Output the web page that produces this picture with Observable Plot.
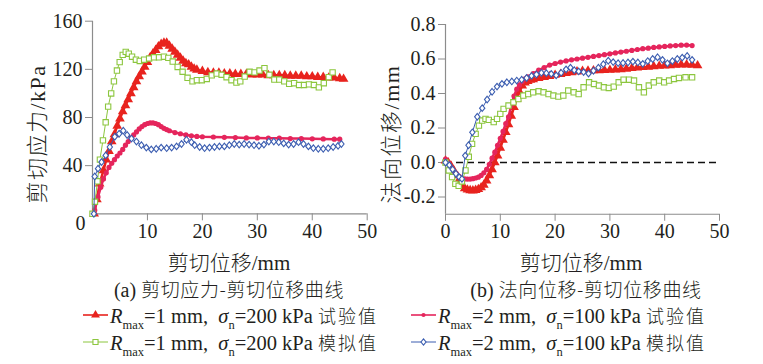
<!DOCTYPE html>
<html><head><meta charset="utf-8">
<script src="https://cdn.jsdelivr.net/npm/d3@7"></script>
<script src="https://cdn.jsdelivr.net/npm/@observablehq/plot@0.6"></script>
<style>
body{margin:0;background:#fff;}
#fig{position:relative;width:763px;height:364px;background:#fff;overflow:hidden;font-family:"Liberation Serif","Noto Sans CJK SC",serif;color:#231f20;}
.abs{position:absolute;white-space:nowrap;}
.ctr{transform:translate(-50%,-50%);}
.ttl{font-size:21px;line-height:24px;}
.cap{font-size:20px;line-height:22px;}
.cap .cjk{font-size:19px;letter-spacing:0.6px;}
.ylab{font-size:22px;line-height:24px;letter-spacing:1.5px;transform:translate(-50%,-50%) rotate(-90deg);}
.leg{font-size:20.5px;line-height:20px;}
.leg .sub{font-size:12.5px;position:relative;top:6px;line-height:0;}
.leg .cjk{font-size:18px;letter-spacing:2px;}
.cjk{font-family:"Noto Sans CJK SC",sans-serif;font-weight:300;}
svg.sample{position:absolute;overflow:visible;}
</style></head>
<body>
<div id="fig"></div>
<script>
// ---------- data ----------
// (a) shear stress (kPa) vs shear displacement (mm)
const aTest1X = [0.3,0.8,1.3,2,2.5,3,3.5,4,4.5,5,5.5,6,6.5,7,7.5,8,8.5,9,9.5,10,10.5,11,11.5,12,12.5,13,13.5,14,14.5,15,15.5,16,16.5,17,17.5,18,18.5,19,20,21,22,23,24,25,26,27,28,29,30,31,32,33,34,35,36,37,38,39,40,41,42,43,44,45,45.7];
const aTest1Y = [0,12,25,36,45,52,60,66,73,79,85,90,95,100,105,110,114,118,122,126,130,133,136,139,141,142,142,139.5,137,134.5,132,129.5,127,125,124,122,120.5,119.5,118.5,117.5,117,117,116.5,116.5,116,116,116,115.5,115.5,115.5,115,115,115,115,114.5,114.5,114.5,114,114,113.5,113.5,113,113,112.5,112];
const aSim1X = [0,0.45,0.9,1.35,1.9,2.4,2.85,3.4,3.9,4.45,4.95,5.5,6.05,6.6,7.2,7.9,8.6,9.4,10.3,11.2,12.1,13.0,13.8,14.6,15.5,16.4,17.3,18.2,19.0,19.9,20.8,21.7,22.6,23.5,24.4,25.3,26.2,26.9,27.7,28.6,29.5,30.4,31.3,32.2,33.1,34.0,34.9,35.8,36.7,37.6,38.5,39.4,40.3,41.2,42.1,43.0,43.7];
const aSim1Y = [0,10,27,45,61,76,89,100,110,119,126,132,134.5,133,130.5,128,127,128,129,130,130,130.5,129.5,126.5,122,118,113,110,111,111,112,115,116.5,115.5,113.5,111,109,110,114,118,117.5,119,121,115.5,111.5,111.5,110,108,108.5,107,107,107.5,107,105,108.5,113.5,117.5];
const aTest2X = [0.4,1,1.5,2,2.5,3,3.5,4,4.5,5,5.5,6,6.5,7,7.5,8,8.5,9,9.5,10,10.5,11,11.5,12,12.5,13,13.5,14,15,16,17,18,19,20,22,24,26,28,30,32,34,36,38,40,42,44,45];
const aTest2Y = [3,14,22,29,34,38.5,42,45,48,50.5,53.5,57,60,63,65.5,68,70.5,72.5,74,75,75.5,75.5,75,74,72.5,71,70,69,67.5,66.5,65.5,64.8,64.3,64,63.8,63.5,63.3,63,63,62.8,62.8,62.5,62.5,62.3,62.2,62,62];
const aSim2X = [0.25,0.4,1.0,1.65,2.4,3.15,4.05,4.85,5.6,6.3,7.1,8.0,8.9,9.8,10.7,11.6,12.5,13.5,14.4,15.3,16.2,17.1,18.0,18.6,19.5,20.4,21.3,22.2,23.1,24.0,24.9,25.8,26.7,27.6,28.5,29.4,30.3,31.2,32.1,33.0,33.9,34.8,35.7,36.6,37.5,38.4,39.3,40.2,41.1,42.0,42.9,43.8,44.7,45.3];
const aSim2Y = [0,31,37.5,43,48.5,55.5,64,66.5,69,65.5,62.5,60,57,55,53.5,54,55,54.5,55,56,58,61.5,59.5,57,55.5,54.5,55,55.5,56,56,57,58,57.5,58,57.5,57,56.5,57.5,60,60,59.5,58.5,57.5,58,59.5,58,56,54.5,54,54,54.5,55.5,56.5,58];

// (b) normal displacement (mm) vs shear displacement (mm)
const bTest1X = [0,0.5,1,1.5,2,2.5,3,3.5,4,4.5,5,5.5,6,6.5,7,7.5,8,8.5,9,9.5,10,10.5,11,11.5,12,12.5,13,13.5,14,14.5,15,15.5,16,17,18,19,20,21,22,23,24,25,26,27,28,29,30,31,32,33,34,35,36,37,38,39,40,41,42,43,44,45,46];
const bTest1Y = [0.01,0,-0.02,-0.045,-0.075,-0.1,-0.13,-0.15,-0.158,-0.162,-0.163,-0.16,-0.155,-0.145,-0.13,-0.105,-0.075,-0.04,0,0.04,0.085,0.13,0.175,0.22,0.27,0.32,0.37,0.41,0.445,0.462,0.472,0.478,0.482,0.489,0.495,0.5,0.507,0.512,0.518,0.522,0.527,0.53,0.532,0.533,0.534,0.535,0.536,0.538,0.54,0.543,0.546,0.549,0.552,0.554,0.557,0.559,0.561,0.563,0.565,0.567,0.567,0.566,0.562];
const bSim1X = [0,0.6,1.2,1.8,2.4,3.0,3.65,4.25,4.85,5.5,6.1,6.7,7.3,7.9,8.8,9.4,10,10.6,11.5,12.4,13.3,14.2,15.1,16,17,17.9,18.8,19.7,20.6,21.5,22.4,23.4,24.3,25.2,26.2,27.1,28,28.9,29.8,30.7,31.6,32.5,33.5,34.4,35.3,36.2,37.1,38,39,39.9,40.8,41.7,42.6,43.8,45];
const bSim1Y = [0,-0.046,-0.085,-0.124,-0.135,-0.11,-0.046,0.033,0.108,0.166,0.214,0.243,0.253,0.247,0.234,0.253,0.282,0.311,0.33,0.349,0.368,0.388,0.397,0.407,0.413,0.407,0.397,0.388,0.382,0.388,0.417,0.407,0.397,0.436,0.465,0.455,0.446,0.436,0.432,0.44,0.465,0.48,0.48,0.475,0.436,0.407,0.446,0.465,0.475,0.465,0.475,0.484,0.49,0.494,0.494];
const bTest2X = [0,0.5,1,1.5,2,2.5,3,3.5,4,4.5,5,5.5,6,6.5,7,7.5,8,8.5,9,9.5,10,10.5,11,11.5,12,12.5,13,13.5,14,14.5,15,16,17,18,19,20,21,22,23,24,25,26,27,28,29,30,31,32,33,34,35,36,37,38,39,40,41,42,43,44,45];
const bTest2Y = [0.02,0,-0.03,-0.05,-0.065,-0.08,-0.09,-0.095,-0.096,-0.096,-0.094,-0.09,-0.085,-0.075,-0.06,-0.04,-0.01,0.025,0.06,0.1,0.14,0.18,0.225,0.265,0.33,0.385,0.425,0.45,0.47,0.485,0.497,0.515,0.535,0.55,0.565,0.574,0.582,0.589,0.595,0.6,0.605,0.61,0.615,0.62,0.625,0.63,0.635,0.64,0.645,0.65,0.655,0.66,0.663,0.667,0.67,0.673,0.676,0.678,0.68,0.681,0.678];
const bSim2X = [0,0.7,1.3,1.9,2.5,3.0,3.6,4.2,4.9,5.8,6.7,7.6,8.5,9.4,10.3,11.2,12.1,13.0,13.9,14.8,15.7,16.6,17.5,18.4,19.3,20.2,21.1,22.0,22.8,23.5,24.3,25.2,26.1,27.0,27.9,28.8,29.7,30.6,31.5,32.4,33.3,34.2,35.1,36.0,36.9,37.8,38.7,39.6,40.5,41.4,42.3,43.2,44.1,45.0];
const bSim2Y = [0,-0.015,-0.04,-0.065,-0.085,-0.095,0.04,0.1,0.175,0.265,0.315,0.365,0.41,0.44,0.456,0.465,0.47,0.475,0.48,0.49,0.502,0.51,0.52,0.518,0.514,0.505,0.52,0.54,0.55,0.535,0.528,0.524,0.515,0.532,0.55,0.57,0.59,0.582,0.576,0.577,0.58,0.585,0.58,0.572,0.588,0.6,0.61,0.595,0.575,0.588,0.6,0.608,0.618,0.595];

const aXTicks = [10,20,30,40,50];
const aYTicks = [40,80,120,160];
const bXTicks = [0,10,20,30,40,50];
const bYTicks = [-0.2,0,0.2,0.4,0.6,0.8];

const seriesNames = ["R_max=1 mm, σn=200 kPa 试验值","R_max=1 mm, σn=200 kPa 模拟值","R_max=2 mm, σn=100 kPa 试验值","R_max=2 mm, σn=100 kPa 模拟值"];
const colors = ["#e8231e","#8cc63e","#e5255c","#3b5db0"];

// ---------- helpers ----------
const zip = (xs, ys) => xs.map((x, i) => ({x, y: ys[i]}));
const diamond = {
  draw(ctx, size) {
    const a = Math.sqrt(size);
    const h = a * 0.62, w = a * 0.5;
    ctx.moveTo(0, -h); ctx.lineTo(w, 0); ctx.lineTo(0, h); ctx.lineTo(-w, 0); ctx.closePath();
  }
};
const axisGray = "#8c8c8c";
const ink = "#231f20";
const font = '"Liberation Serif", "Noto Sans CJK SC", serif';

function seriesMarks(t1, s1, t2, s2) {
  return [
    Plot.line(t1, {x:"x", y:"y", stroke:colors[0], strokeWidth:2.5}),
    Plot.dot(t1, {x:"x", y:"y", symbol:"triangle", fill:colors[0], r:3.6}),
    Plot.line(t2, {x:"x", y:"y", stroke:colors[2], strokeWidth:2.5}),
    Plot.dot(t2, {x:"x", y:"y", symbol:"circle", fill:colors[2], r:2.6}),
    Plot.line(s1, {x:"x", y:"y", stroke:colors[1], strokeWidth:1}),
    Plot.dot(s1, {x:"x", y:"y", symbol:"square", stroke:colors[1], fill:"white", strokeWidth:1.1, r:3}),
    Plot.line(s2, {x:"x", y:"y", stroke:colors[3], strokeWidth:1}),
    Plot.dot(s2, {x:"x", y:"y", symbol:diamond, stroke:colors[3], fill:"white", strokeWidth:1.1, r:3})
  ];
}

const fig = document.getElementById("fig");

// ---------- (a) ----------
const plotA = Plot.plot({
  width: 380, height: 250,
  marginLeft: 92, marginRight: 13.3, marginTop: 20.7, marginBottom: 36.7,
  x: {domain: [0, 50]},
  y: {domain: [0, 160]},
  style: {fontFamily: font, fontSize: "20px", color: ink, background: "transparent", overflow: "visible"},
  marks: [
    Plot.axisX({ticks: aXTicks, tickSize: 7, tickPadding: 3, stroke: axisGray, fill: ink, label: null, fontSize: 20}),
    Plot.axisY({ticks: aYTicks, tickSize: 7, tickPadding: 3, stroke: axisGray, fill: ink, label: null, fontSize: 20}),
    Plot.ruleX([0], {stroke: axisGray, strokeWidth: 1.2}),
    Plot.ruleY([0], {stroke: axisGray, strokeWidth: 1.2}),
    Plot.text([0], {x: d => d, y: d => d, text: d => String(d), dx: -12, dy: 10, fontSize: 20, fill: ink}),
    ...seriesMarks(zip(aTest1X, aTest1Y), zip(aSim1X, aSim1Y), zip(aTest2X, aTest2Y), zip(aSim2X, aSim2Y))
  ]
});
plotA.style.position = "absolute"; plotA.style.left = "0px"; plotA.style.top = "0px";
fig.appendChild(plotA);

// ---------- (b) ----------
const plotB = Plot.plot({
  width: 383, height: 250,
  marginLeft: 65, marginRight: 44, marginTop: 24, marginBottom: 36.25,
  x: {domain: [0, 50]},
  y: {domain: [-0.3, 0.8]},
  style: {fontFamily: font, fontSize: "20px", color: ink, background: "transparent", overflow: "visible"},
  marks: [
    Plot.axisX({ticks: bXTicks, tickSize: 7, tickPadding: 3, stroke: axisGray, fill: ink, label: null, fontSize: 20}),
    Plot.axisY({ticks: bYTicks, tickSize: 7, tickPadding: 3, stroke: axisGray, fill: ink, label: null, fontSize: 20, tickFormat: d => d.toFixed(1)}),
    Plot.ruleX([0], {stroke: axisGray, strokeWidth: 1.2}),
    Plot.ruleY([-0.3], {stroke: axisGray, strokeWidth: 1.2}),
    Plot.ruleY([0], {stroke: "#111", strokeWidth: 1.5, strokeDasharray: "7,4"}),
    ...seriesMarks(zip(bTest1X, bTest1Y), zip(bSim1X, bSim1Y), zip(bTest2X, bTest2Y), zip(bSim2X, bSim2Y))
  ]
});
plotB.style.position = "absolute"; plotB.style.left = "380px"; plotB.style.top = "0px";
fig.appendChild(plotB);

// ---------- texts ----------
function addText(html, cls, left, top) {
  const d = document.createElement("div");
  d.className = "abs " + cls;
  d.style.left = left + "px"; d.style.top = top + "px";
  d.innerHTML = html;
  fig.appendChild(d);
  return d;
}
addText('<span class="cjk">剪切应力</span>/kPa', "ylab", 36, 134);
addText('<span class="cjk">法向位移</span>/mm', "ylab", 390, 134);
addText('<span class="cjk">剪切位移</span>/mm', "ttl ctr", 229, 262);
addText('<span class="cjk">剪切位移</span>/mm', "ttl ctr", 581, 262);
addText('(a) <span class="cjk">剪切应力-剪切位移曲线</span>', "cap ctr", 229, 289);
addText('(b) <span class="cjk">法向位移-剪切位移曲线</span>', "cap ctr", 586, 289);

// ---------- legend ----------
const legendItems = [
  {rmax: "1", sn: "200", kind: "试验值", color: colors[0], sym: "triangle", filled: true, lx: 83, ly: 315},
  {rmax: "1", sn: "200", kind: "模拟值", color: colors[1], sym: "square", filled: false, lx: 83, ly: 342},
  {rmax: "2", sn: "100", kind: "试验值", color: colors[2], sym: "circle", filled: true, lx: 411, ly: 315},
  {rmax: "2", sn: "100", kind: "模拟值", color: colors[3], sym: "diamond", filled: false, lx: 411, ly: 342}
];
const symMap = {triangle: d3.symbolTriangle, square: d3.symbolSquare, circle: d3.symbolCircle, diamond: diamond};
for (const it of legendItems) {
  const svg = d3.create("svg").attr("class", "sample").attr("width", 26).attr("height", 12)
    .style("left", it.lx + "px").style("top", (it.ly - 6) + "px");
  svg.append("line").attr("x1", 0).attr("x2", 25).attr("y1", 6).attr("y2", 6)
    .attr("stroke", it.color).attr("stroke-width", it.filled ? 1.6 : 1);
  const size = it.sym === "circle" ? 14 : (it.sym === "triangle" ? 34 : 26);
  svg.append("path").attr("transform", "translate(12.5,6)")
    .attr("d", d3.symbol(symMap[it.sym], size)())
    .attr("fill", it.filled ? it.color : "white").attr("stroke", it.color).attr("stroke-width", it.filled ? 0 : 1.1);
  fig.appendChild(svg.node());
  addText(`<i>R</i><span class="sub">max</span>=${it.rmax} mm,&nbsp; <i>σ</i><span class="sub">n</span>=${it.sn} kPa <span class="cjk">${it.kind}</span>`,
    "leg", it.lx + 27, it.ly - 10);
}
</script>
</body></html>
